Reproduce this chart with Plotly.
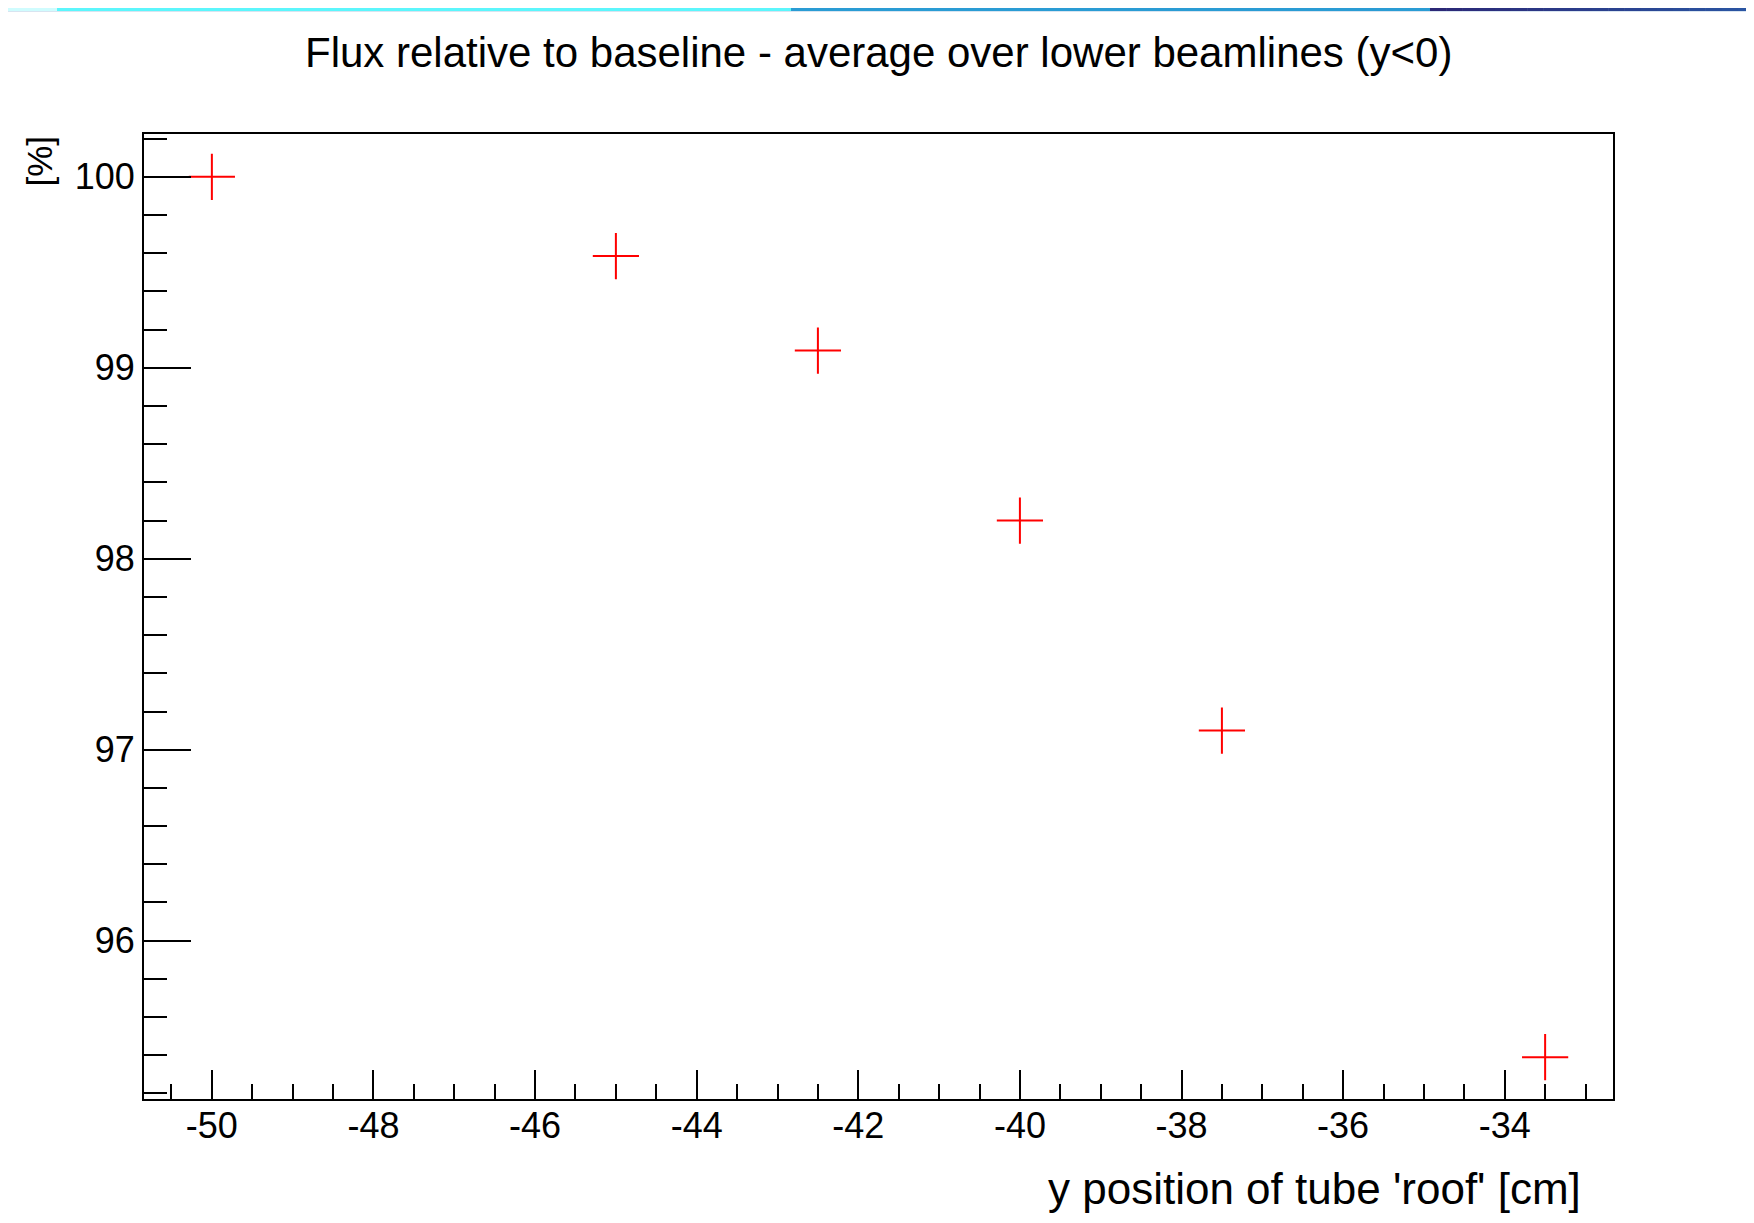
import plotly.graph_objects as go

# ---- data ----
roof_y_cm = [-50.0, -45.0, -42.5, -40.0, -37.5, -33.5]
flux_pct = [100.0, 99.585, 99.09, 98.2, 97.1, 95.39]

x_tick_vals = [-50, -48, -46, -44, -42, -40, -38, -36, -34]
x_tick_text = ["-50", "-48", "-46", "-44", "-42", "-40", "-38", "-36", "-34"]
y_tick_vals = [96, 97, 98, 99, 100]
y_tick_text = ["96", "97", "98", "99", "100"]

title_text = "Flux relative to baseline - average over lower beamlines (y<0)"
x_title = "y position of tube 'roof' [cm]"
y_title = "[%]"

# page is 1754x1223; browser body margin of 8px offsets the figure
OFF = 8
W, H = 1754 - 2 * OFF, 1223 - 2 * OFF
L, R, T, B = 144, 1613, 134, 1099  # plot frame in page pixels


def px(x):
    return (x - L) / (R - L)


def py(y):
    return (B - y) / (B - T)


def hexmix(c1, c2, t):
    a = [int(c1[i:i + 2], 16) for i in (1, 3, 5)]
    b = [int(c2[i:i + 2], 16) for i in (1, 3, 5)]
    return "#%02x%02x%02x" % tuple(round(a[k] + (b[k] - a[k]) * t) for k in range(3))


fig = go.Figure()
fig.add_trace(go.Scatter(
    x=roof_y_cm, y=flux_pct, mode="markers",
    marker=dict(symbol="cross-thin", size=33, line=dict(color="#ff0000", width=2)),
    showlegend=False, hoverinfo="x+y",
))

shapes = []


def band(x0, x1, y0, y1, color):
    shapes.append(dict(type="rect", xref="paper", yref="paper", layer="above",
                       x0=px(x0), x1=px(x1), y0=py(y1), y1=py(y0),
                       fillcolor=color, line=dict(width=0)))


# top decorative band (only the part inside the figure is visible)
band(0, 57, 0, 11, "#cffcfe")
band(57, 791, 0, 11, "#5cf6fc")
band(791, 1430, 0, 11, "#2a9cd4")
n = 20
for i in range(n):
    xa = 1430 + (1754 - 1430) * i / n
    xb = 1430 + (1754 - 1430) * (i + 1) / n + 0.5
    band(xa, xb, 0, 11, hexmix("#2b2876", "#2a55a2", i / (n - 1)))
band(0, 1754, 11, 12, "#d8e4f0")

font_family = "Liberation Sans, Arial, Helvetica, sans-serif"

axis_common = dict(
    showline=True, linecolor="black", linewidth=2, mirror=True,
    ticks="inside", tickcolor="black", tickwidth=2,
    showgrid=False, zeroline=False,
    tickfont=dict(family=font_family, size=36, color="black"),
)

fig.update_layout(
    width=W, height=H,
    paper_bgcolor="white", plot_bgcolor="white",
    margin=dict(l=L - OFF, r=W - (R - OFF), t=T - OFF, b=H - (B - OFF), autoexpand=False),
    xaxis=dict(range=[-50.84, -32.66], tickmode="array", tickvals=x_tick_vals, ticktext=x_tick_text,
               ticklen=29, ticklabelstandoff=-6,
               minor=dict(dtick=0.5, tick0=0, ticks="inside", ticklen=15, tickwidth=2, tickcolor="black"),
               **axis_common),
    yaxis=dict(range=[95.171, 100.224], tickmode="array", tickvals=y_tick_vals, ticktext=y_tick_text,
               ticklen=47,
               minor=dict(dtick=0.2, tick0=0, ticks="inside", ticklen=23, tickwidth=2, tickcolor="black"),
               **axis_common),
    shapes=shapes,
    annotations=[
        dict(text=title_text, xref="paper", yref="paper", x=px(878), y=py(52),
             xanchor="center", yanchor="middle", showarrow=False,
             font=dict(family=font_family, size=42, color="black")),
        dict(text=x_title, xref="paper", yref="paper", x=px(1582), y=py(1214),
             xanchor="right", yanchor="bottom", showarrow=False, borderpad=0,
             font=dict(family=font_family, size=44, color="black")),
        dict(text=y_title, xref="paper", yref="paper", x=px(39), y=1.0,
             xanchor="center", yanchor="top", textangle=-90, showarrow=False,
             font=dict(family=font_family, size=35, color="black")),
    ],
)

fig.write_html("out.html")
